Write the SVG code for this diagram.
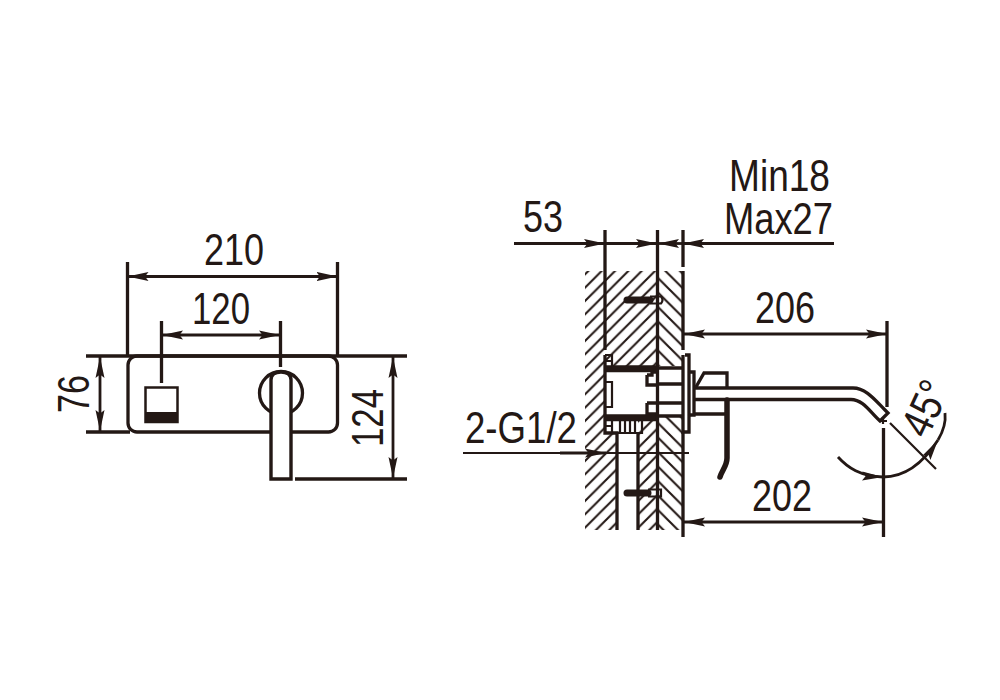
<svg xmlns="http://www.w3.org/2000/svg" width="1000" height="700" viewBox="0 0 1000 700">
<style>
.l{fill:none;stroke:#231815;stroke-width:3.3}
.t{fill:none;stroke:#231815;stroke-width:2.2}
.d{fill:none;stroke:#231815;stroke-width:2.8}
.a{marker-end:url(#ah)}
.k{fill:#231815;stroke:none}
text{font-family:"Liberation Sans",Arial,sans-serif;font-size:44px;fill:#231815}
</style>
<defs>
<marker id="ah" markerUnits="userSpaceOnUse" markerWidth="24" markerHeight="12" refX="21" refY="6" orient="auto"><path d="M0 1.500L21 6L0 10.500L3.500 6z" fill="#231815"/></marker>
<pattern id="hf" patternUnits="userSpaceOnUse" x="6.03" y="0" width="13.333" height="13.333"><path d="M-2 2L2 -2M0 13.333L13.333 0M11.333 15.333L15.333 11.333" stroke="#231815" stroke-width="2.100" fill="none"/></pattern>
<pattern id="hb" patternUnits="userSpaceOnUse" x="3" y="0" width="14.500" height="14.500"><path d="M-2 12.500L2 16.500M0 0L14.500 14.500M12.500 -2L16.500 2" stroke="#231815" stroke-width="2.100" fill="none"/></pattern>
</defs>

<g id="hatching">
<rect x="585" y="271" width="72" height="95" fill="url(#hf)"/>
<rect x="585" y="366" width="20" height="164" fill="url(#hf)"/>
<rect x="605" y="433" width="12" height="97" fill="url(#hf)"/>
<rect x="638" y="420" width="19" height="110" fill="url(#hf)"/>
<rect x="658" y="271" width="25" height="95" fill="url(#hb)"/>
<rect x="658" y="416" width="25" height="114" fill="url(#hb)"/>
</g>

<g id="front-plate">
<rect class="l" x="128" y="356" width="209.500" height="76" rx="9"/>
</g>
<g id="front-lever">
<rect x="145.500" y="387.500" width="32" height="34.500" fill="#fff" stroke="#231815" stroke-width="2.500"/>
<rect class="k" x="145" y="412" width="33" height="10.500"/>
<circle class="l" cx="281" cy="393" r="21.500"/>
<path d="M271 479V380Q271 372 281 372Q291 372 291 380V479z" fill="#fff" stroke="#231815" stroke-width="3.400"/>
</g>

<g id="side-body">
<path class="l" d="M605 355V433H617V530M638 530V433M605 367H657M605 370.500H657M605 416H657M605 419.500H657"/>
<path class="t" d="M605 355H612V367M605 361H612M606 382H612V407H606M612 419V433H642V419M620 421V433M625 421V433M630 421V433M635 421V433M605 426H612"/>
<path class="l" d="M657.500 230V530M647 375H652V372H658M647 375V385H658M647 403V414H658M647 403H658"/>
<path class="l" d="M658 384H683M658 403H683M658 368H683M658 416H683"/>
<path class="l" d="M683 271V350M685 355H689V432H683V355M689 372H694V415H689"/>
<path class="l" d="M693 388H853C866 388 875 400 885 410L888 413L880 421C870 412 863 399.500 851 399.500H693"/>
<path class="l" d="M696 387L704 373H727V388M694 414H727"/>
<path d="M727 400V458C727 466 722 470 720 477" fill="none" stroke="#231815" stroke-width="5.500" stroke-linecap="round"/>
<path d="M627 300H650" stroke="#231815" stroke-width="7" stroke-linecap="round"/>
<path class="t" d="M650 296.500H661Q664 300 661 303.500H650"/>
<path d="M627 493H648" stroke="#231815" stroke-width="7" stroke-linecap="round"/>
<path class="t" d="M648 489.500H661V496.500H648"/>
</g>

<g id="connectors">
<path class="l" d="M127.500 262V356M337.500 262V356M161.500 321V383M280.500 321V367"/>
<path class="d a" d="M230 276.500H127.500"/><path class="d a" d="M230 276.500H337.500"/>
<path class="d a" d="M220 335H162"/><path class="d a" d="M220 335H280"/>
<path class="l" d="M86 356H407M86 432H130M295 479H407"/>
<path class="d a" d="M100 394V357"/><path class="d a" d="M100 394V431"/>
<path class="d a" d="M393 417V357"/><path class="d a" d="M393 417V478"/>

<path class="l" d="M605 230V350M683 230V267M887 321V407M883.500 428V537M683 432V537"/>
<path class="d a" d="M514 243.500H605"/><path class="d a" d="M605 243.500H657"/>
<path class="d a" d="M683 243.500H658"/><path class="d a" d="M834 243.500H683"/>
<path class="d a" d="M790 334H684"/><path class="d a" d="M790 334H887"/>
<path class="d a" d="M790 522H684"/><path class="d a" d="M790 522H883"/>
<path class="t" d="M463 453H689"/><path class="d a" d="M560 453H606"/>
<path class="t" d="M890 423L936 469M883 417V424M880 421H887"/>
<path class="d a" d="M838 457C848 468 860 476 883 477"/>
<path class="d a" d="M883 477C900 477 920 468 938 440"/>
<path class="d" d="M938 440C944 430 946 422 945 413"/>
</g>

<g id="labels">
<text x="204" y="265" textLength="60" lengthAdjust="spacingAndGlyphs">210</text>
<text x="192" y="324" textLength="58" lengthAdjust="spacingAndGlyphs">120</text>
<text transform="translate(89 413) rotate(-90)" textLength="38" lengthAdjust="spacingAndGlyphs">76</text>
<text transform="translate(383 447) rotate(-90)" textLength="58" lengthAdjust="spacingAndGlyphs">124</text>
<text x="523" y="232" textLength="40" lengthAdjust="spacingAndGlyphs">53</text>
<text x="729" y="191" textLength="101" lengthAdjust="spacingAndGlyphs">Min18</text>
<text x="724" y="234" textLength="109" lengthAdjust="spacingAndGlyphs">Max27</text>
<text x="755" y="323" textLength="60" lengthAdjust="spacingAndGlyphs">206</text>
<text x="752" y="511" textLength="60" lengthAdjust="spacingAndGlyphs">202</text>
<text x="465" y="443" textLength="112" lengthAdjust="spacingAndGlyphs">2-G1/2</text>
<text transform="translate(927 440) rotate(-65)" textLength="56" lengthAdjust="spacingAndGlyphs">45°</text>
</g>
</svg>
